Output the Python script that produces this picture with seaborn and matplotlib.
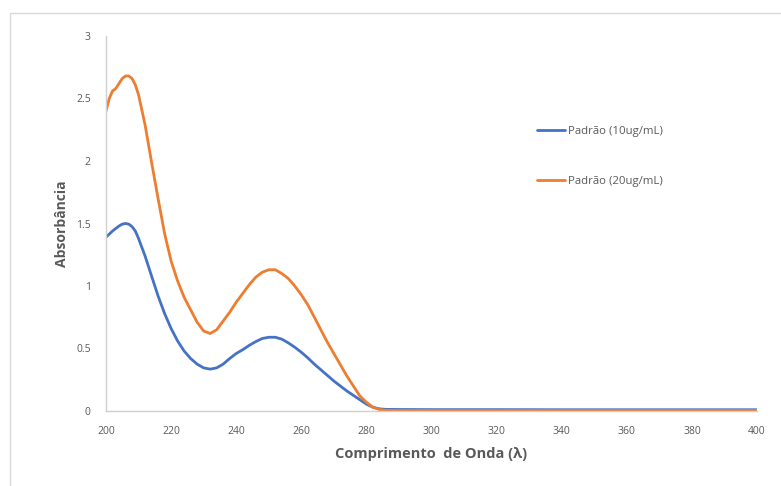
import pandas as pd
import matplotlib.pyplot as plt
import seaborn as sns
from matplotlib.lines import Line2D

# --- dados ---
comprimento = [200, 201, 202, 203, 204, 205, 206, 207, 208, 209, 210, 212, 214, 216, 218,
               220, 222, 224, 226, 228, 230, 232, 234, 236, 238, 240, 242, 244, 246, 248,
               250, 252, 254, 256, 258, 260, 262, 264, 266, 268, 270, 272, 274, 276, 278,
               280, 282, 284, 286, 290, 300, 320, 340, 360, 380, 400]

padrao_10 = [1.39, 1.415, 1.44, 1.46, 1.48, 1.495, 1.50, 1.495, 1.475, 1.44, 1.38, 1.24, 1.08, 0.92, 0.78,
             0.66, 0.56, 0.48, 0.42, 0.375, 0.345, 0.335, 0.345, 0.375, 0.42, 0.46, 0.49, 0.525, 0.555, 0.58,
             0.59, 0.59, 0.575, 0.545, 0.51, 0.47, 0.425, 0.375, 0.33, 0.285, 0.24, 0.20, 0.16, 0.125, 0.09,
             0.055, 0.03, 0.017, 0.013, 0.012, 0.011, 0.011, 0.01, 0.01, 0.01, 0.01]

padrao_20 = [2.40, 2.50, 2.56, 2.58, 2.62, 2.66, 2.68, 2.68, 2.66, 2.61, 2.53, 2.29, 1.99, 1.70, 1.42,
             1.20, 1.04, 0.91, 0.81, 0.71, 0.64, 0.62, 0.65, 0.72, 0.79, 0.87, 0.94, 1.01, 1.07, 1.11,
             1.13, 1.13, 1.10, 1.06, 1.00, 0.93, 0.85, 0.75, 0.65, 0.55, 0.46, 0.37, 0.28, 0.20, 0.12,
             0.07, 0.03, 0.012, 0.006, 0.004, 0.004, 0.004, 0.004, 0.004, 0.004, 0.004]

series = ["Padrão (10ug/mL)", "Padrão (20ug/mL)"]
cores = {"Padrão (10ug/mL)": "#4472C4", "Padrão (20ug/mL)": "#ED7D31"}

df = pd.DataFrame({
    "comprimento": comprimento * 2,
    "absorbancia": padrao_10 + padrao_20,
    "serie": [series[0]] * len(comprimento) + [series[1]] * len(comprimento),
})

# --- estilo ---
sns.set_style("white")
plt.rcParams["font.family"] = ["Open Sans", "DejaVu Sans"]

fig = plt.figure(figsize=(7.81, 4.86), dpi=100)
ax = fig.add_axes([106 / 781, 1 - 411 / 486, (757 - 106) / 781, (411 - 36) / 486])

sns.lineplot(data=df, x="comprimento", y="absorbancia", hue="serie", palette=cores,
             linewidth=2.0, ax=ax, legend=False)

ax.set_xlim(200, 400)
ax.set_ylim(0, 3)
ax.set_xticks(range(200, 401, 20))
ax.set_yticks([0, 0.5, 1, 1.5, 2, 2.5, 3])
ax.set_yticklabels(["0", "0.5", "1", "1.5", "2", "2.5", "3"])

for s in ["top", "right"]:
    ax.spines[s].set_visible(False)
for s in ["left", "bottom"]:
    ax.spines[s].set_color("#d0d0d0")
    ax.spines[s].set_linewidth(1.0)

ax.tick_params(axis="both", length=0, labelsize=7.5, labelcolor="#595959")
ax.tick_params(axis="x", pad=11)
ax.tick_params(axis="y", pad=11)

ax.set_xlabel("Comprimento  de Onda (λ)", fontsize=10.5, fontweight="bold", color="#595959", labelpad=7)
ax.set_ylabel("Absorbância", fontsize=10, fontweight="bold", color="#595959", labelpad=5)

# legenda
handles = [Line2D([0], [0], color=cores[s], linewidth=2.0) for s in series]
fig.legend(handles, series, loc="upper left", bbox_to_anchor=(537 / 781, 1 - 126 / 486),
           frameon=False, fontsize=8.2, handlelength=2.45, handletextpad=0.25,
           labelspacing=3.4, borderpad=0, borderaxespad=0, labelcolor="#595959")

# moldura do gráfico
fig.add_artist(Line2D([10 / 781, 10 / 781], [0, 1 - 13 / 486], color="#d9d9d9", linewidth=1.0))
fig.add_artist(Line2D([10 / 781, 1], [1 - 13 / 486, 1 - 13 / 486], color="#d9d9d9", linewidth=1.0))

plt.savefig("out.png", dpi=100)
plt.close()
